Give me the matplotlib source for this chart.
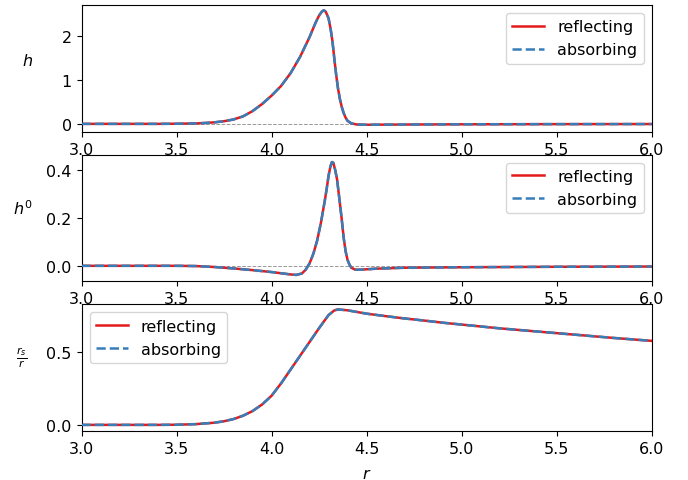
import matplotlib
matplotlib.use("Agg")
import matplotlib.pyplot as plt

# | ================= Data ================= |

r_h = [3.0, 3.2, 3.4, 3.5, 3.6, 3.65, 3.7, 3.75, 3.8, 3.85, 3.9, 3.95, 4.0,
       4.05, 4.1, 4.15, 4.2, 4.23, 4.25, 4.265, 4.275, 4.285, 4.3, 4.31,
       4.32, 4.33, 4.34, 4.35, 4.36, 4.37, 4.38, 4.39, 4.4, 4.42, 4.45,
       4.5, 4.7, 5.0, 5.5, 6.0]
h_reflecting = [0.0, 0.0, 0.0, 0.003, 0.01, 0.02, 0.035, 0.06, 0.10, 0.17,
                0.29, 0.45, 0.64, 0.86, 1.15, 1.52, 1.97, 2.28, 2.46, 2.55,
                2.58, 2.55, 2.40, 2.18, 1.90, 1.50, 1.12, 0.80, 0.56, 0.38,
                0.24, 0.14, 0.07, 0.01, -0.015, -0.02, -0.015, -0.01,
                -0.006, -0.004]
h_absorbing = list(h_reflecting)

r_h0 = [3.0, 3.3, 3.5, 3.6, 3.7, 3.8, 3.9, 4.0, 4.05, 4.1, 4.13, 4.16, 4.18,
        4.2, 4.22, 4.24, 4.26, 4.28, 4.29, 4.3, 4.31, 4.318, 4.325, 4.335,
        4.345, 4.36, 4.37, 4.38, 4.39, 4.4, 4.41, 4.42, 4.44, 4.47, 4.55,
        4.7, 5.0, 5.5, 6.0]
h0_reflecting = [0.0, 0.0, 0.0, -0.001, -0.005, -0.011, -0.018, -0.026,
                 -0.031, -0.036, -0.038, -0.032, -0.016, 0.010, 0.050, 0.105,
                 0.18, 0.27, 0.32, 0.375, 0.415, 0.433, 0.43, 0.40, 0.36,
                 0.26, 0.19, 0.115, 0.06, 0.025, 0.005, -0.008, -0.016,
                 -0.016, -0.012, -0.008, -0.006, -0.004, -0.003]
h0_absorbing = list(h0_reflecting)

r_rs = [3.0, 3.4, 3.5, 3.6, 3.7, 3.75, 3.8, 3.85, 3.9, 3.95, 4.0, 4.05, 4.1,
        4.15, 4.2, 4.25, 4.3, 4.33, 4.35, 4.4, 4.5, 4.6, 4.7, 4.8, 4.9,
        5.0, 5.2, 5.4, 5.6, 5.8, 6.0]
rs_reflecting = [0.0, 0.0, 0.001, 0.005, 0.015, 0.025, 0.04, 0.063, 0.095,
                 0.14, 0.20, 0.285, 0.38, 0.475, 0.57, 0.665, 0.755, 0.787,
                 0.794, 0.788, 0.765, 0.748, 0.732, 0.718, 0.703, 0.69,
                 0.664, 0.642, 0.62, 0.598, 0.578]
rs_absorbing = list(rs_reflecting)

# | ================= Style ================= |

RED = "#e41a1c"
BLUE = "#377eb8"
GREY = "#999999"
DPI = 100
plt.rcParams["font.size"] = 11.5

# (r, reflecting, absorbing, ylabel, ylim, yticks, legend loc, label xy, zero line)
panels = [
    (r_h, h_reflecting, h_absorbing, r"$h$", (-0.18, 2.70), [0, 1, 2],
     "upper right", (-0.094, 0.567), True),
    (r_h0, h0_reflecting, h0_absorbing, r"$h^0$", (-0.065, 0.464),
     [0.0, 0.2, 0.4], "upper right", (-0.103, 0.583), True),
    (r_rs, rs_reflecting, rs_absorbing, r"$\frac{r_s}{r}$", (-0.042, 0.83),
     [0.0, 0.5], "upper left", (-0.105, 0.587), False),
]

fig, axes = plt.subplots(3, 1, figsize=(688 / DPI, 481 / DPI), dpi=DPI)
fig.subplots_adjust(left=0.1185, right=0.947, top=0.9875, bottom=0.1019,
                    hspace=0.18)

for ax, (r, refl, absb, label, ylim, yticks, loc, lab_xy, zero) in zip(axes, panels):
    if zero:
        ax.axhline(0, color=GREY, linewidth=0.7, linestyle="--", zorder=1)
    ax.plot(r, refl, color=RED, linewidth=1.8, label="reflecting", zorder=2)
    ax.plot(r, absb, color=BLUE, linewidth=1.8, linestyle="--",
            label="absorbing", zorder=3)
    ax.set_xlim(3.0, 6.0)
    ax.set_ylim(*ylim)
    ax.set_yticks(yticks)
    ax.set_xticks([3.0, 3.5, 4.0, 4.5, 5.0, 5.5, 6.0])
    ax.set_ylabel(label, rotation=0, ha="center", va="center")
    ax.yaxis.set_label_coords(*lab_xy)
    ax.legend(loc=loc)

axes[0].set_yticklabels(["0", "1", "2"])
axes[2].set_xlabel(r"$r$")
axes[2].xaxis.set_label_coords(0.5, -0.275)

fig.savefig("out.png", dpi=DPI)
